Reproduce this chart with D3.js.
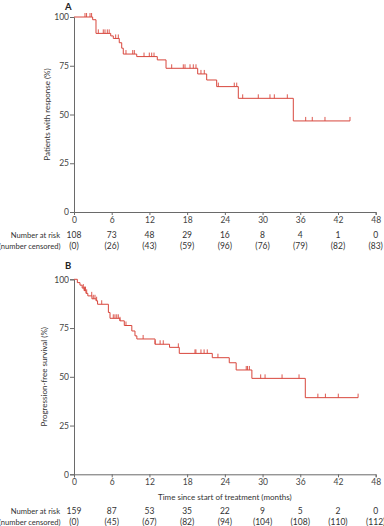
<!DOCTYPE html>
<html>
<head>
<meta charset="utf-8">
<script src="https://cdn.jsdelivr.net/npm/d3@7"></script>
<style>
  body { margin: 0; background: #fff; }
  svg text { font-family: Lato, "Noto Sans", sans-serif; fill: #333; }
</style>
</head>
<body>
<div id="chart"></div>
<script>
// akse ticks
const xTicks = [0, 6, 12, 18, 24, 30, 36, 42, 48];
const yTicks = [0, 25, 50, 75, 100];

// panel A: trin (måned, %)
const stepTimesA = [0, 2.97, 3.5, 5.84, 6.25, 7.2, 7.59, 7.84, 9.98, 13.25, 14.64, 19.68, 21.11, 22.7, 26.14, 34.89];
const stepValsA = [100, 98.6, 91.6, 90.3, 89, 86.8, 84, 81, 79.7, 78, 73.7, 70.8, 67.7, 64.3, 58.3, 46.7];
const endA = 43.91;
const censorA = [1.75, 2.0, 2.55, 2.8, 3.87, 4.66, 4.93, 5.3, 5.6, 6.63, 7.05, 8.27, 9.34, 9.6, 11.14, 11.98, 12.36, 12.73,
  15.54, 17.39, 17.66, 18.46, 18.98, 19.41, 20.2, 20.73, 22.96, 25.5, 25.89, 26.84, 29.32, 31.18, 31.87, 33.94,
  36.86, 37.91, 39.93, 43.91];
const atRiskA = [108, 73, 48, 29, 16, 8, 4, 1, 0];
const censoredA = [0, 26, 43, 59, 96, 76, 79, 82, 83];

// panel B
const stepTimesB = [0, 0.53, 0.95, 1.3, 1.6, 1.9, 2.2, 2.85, 3.5, 3.75, 5.47, 5.73, 7.3, 8.0, 9.2, 9.7, 10.0, 12.9, 15.2, 16.75,
  22.0, 24.7, 25.8, 28.3, 36.8];
const stepValsB = [100, 98.3, 97, 95.5, 94.2, 92.8, 91.5, 90, 89, 87.2, 83, 80, 78.7, 76.3, 73.5, 71, 69.4, 66.7, 65.1, 62,
  59.8, 57.2, 53.5, 49.2, 39.3];
const endB = 45.2;
const censorB = [1.48, 1.67, 1.83, 2.02, 2.82, 3.07, 3.34, 3.6, 4.41, 6.25, 6.52, 6.8, 7.05, 7.32, 8.27, 11.0, 12.9, 13.7, 14.2,
  16.6, 19.25, 19.4, 20.2, 20.7, 21.2, 22.9, 27.4, 27.6, 27.9, 29.7, 30.4, 33.1, 35.8, 38.8, 40.0, 42.05, 45.2];
const atRiskB = [159, 87, 53, 35, 22, 9, 5, 2, 0];
const censoredB = [0, 45, 67, 82, 94, 104, 108, 110, 112];

const W = 384, H = 526;
const red = "#d8463c";
const axisCol = "#6a6a6a";

const svg = d3.select("#chart").append("svg").attr("width", W).attr("height", H);

const x = d3.scaleLinear().domain([0, 48]).range([74, 375.7]);

function panel(opt) {
  const y = d3.scaleLinear().domain([0, 100]).range([opt.top + 195, opt.top]);
  const g = svg.append("g");

  // panel bogstav
  g.append("text").attr("x", 65).attr("y", opt.letterY)
    .style("font-size", "9.5px").style("font-weight", "bold").style("fill", "#222")
    .text(opt.letter);

  // Y akse
  const ya = g.append("g").attr("transform", `translate(${x(0)},0)`)
    .call(d3.axisLeft(y).tickValues(yTicks).tickSize(4).tickPadding(1));
  // X akse
  const xa = g.append("g").attr("transform", `translate(0,${y(0)})`)
    .call(d3.axisBottom(x).tickValues(xTicks).tickSize(3).tickPadding(2));
  [ya, xa].forEach((a) => {
    a.select(".domain").attr("stroke", axisCol);
    a.selectAll(".tick line").attr("stroke", axisCol);
    a.selectAll("text").style("font-size", "8.5px").style("fill", "#444")
      .style("font-family", "Lato, 'Noto Sans', sans-serif");
  });

  // Y label
  g.append("text")
    .attr("transform", `translate(${opt.ylabX},${y(50)}) rotate(-90)`)
    .attr("text-anchor", "middle")
    .style("font-size", "8px")
    .text(opt.ylab);

  // kurve
  const pts = opt.times.map((t, i) => [t, opt.vals[i]]);
  pts.push([opt.end, opt.vals[opt.vals.length - 1]]);
  g.append("path").datum(pts)
    .attr("fill", "none").attr("stroke", red).attr("stroke-width", 1)
    .attr("d", d3.line().x((d) => x(d[0])).y((d) => y(d[1])).curve(d3.curveStepAfter));

  // censurerings-mærker
  const levelAt = (t) => {
    let v = opt.vals[0];
    opt.times.forEach((tt, i) => { if (tt <= t) v = opt.vals[i]; });
    return v;
  };
  g.selectAll(".cens").data(opt.censor).enter().append("line")
    .attr("x1", (d) => x(d)).attr("x2", (d) => x(d))
    .attr("y1", (d) => y(levelAt(d)))
    .attr("y2", (d) => y(levelAt(d)) - 4)
    .attr("stroke", red).attr("stroke-width", 0.9);

  // tabel: number at risk
  const rowY1 = opt.riskY, rowY2 = opt.riskY + 11;
  g.append("text").attr("x", 60).attr("y", rowY1).attr("text-anchor", "end")
    .style("font-size", "7.6px").text("Number at risk");
  g.append("text").attr("x", 60.5).attr("y", rowY2).attr("text-anchor", "end")
    .style("font-size", "7.6px").text("(number censored)");
  g.selectAll(".risk").data(opt.risk).enter().append("text")
    .attr("x", (d, i) => x(xTicks[i])).attr("y", rowY1)
    .attr("text-anchor", "middle").style("font-size", "8.5px").text((d) => d);
  g.selectAll(".cen").data(opt.cens).enter().append("text")
    .attr("x", (d, i) => x(xTicks[i])).attr("y", rowY2)
    .attr("text-anchor", "middle").style("font-size", "8.5px").text((d) => `(${d})`);

  if (opt.xlab) {
    g.append("text").attr("x", (x(0) + x(48)) / 2).attr("y", opt.xlabY)
      .attr("text-anchor", "middle").style("font-size", "8px").text(opt.xlab);
  }
}

panel({
  letter: "A", letterY: 10, top: 17, ylab: "Patients with response (%)", ylabX: 50,
  times: stepTimesA, vals: stepValsA, end: endA, censor: censorA,
  risk: atRiskA, cens: censoredA, riskY: 238
});

panel({
  letter: "B", letterY: 269, top: 279.3, ylab: "Progression-free survival (%)", ylabX: 47,
  times: stepTimesB, vals: stepValsB, end: endB, censor: censorB,
  risk: atRiskB, cens: censoredB, riskY: 514,
  xlab: "Time since start of treatment (months)", xlabY: 500
});
</script>
</body>
</html>
